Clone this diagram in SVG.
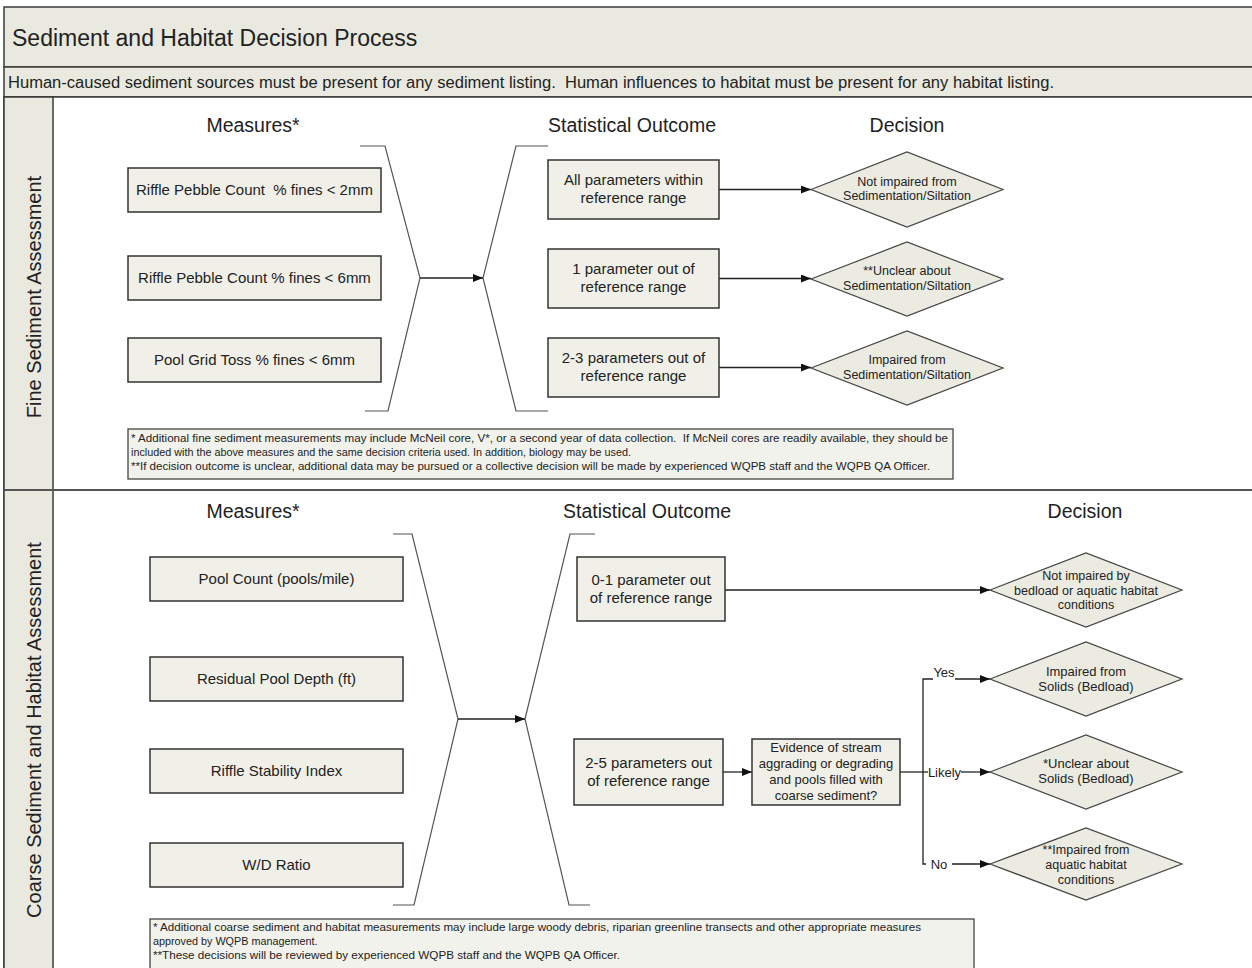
<svg xmlns="http://www.w3.org/2000/svg" width="1252" height="968" viewBox="0 0 1252 968">
<style>
text{font-family:"Liberation Sans",Arial,sans-serif;fill:#222}
.band{fill:#e9e9df;stroke:#3a3a3a;stroke-width:1.5}
.box{fill:#f0f0e8;stroke:#333;stroke-width:1.5}
.dia{fill:#ebebe1;stroke:#444;stroke-width:1.2}
.note{fill:#f2f2ec;stroke:#444;stroke-width:1.3}
.conn{stroke:#222;stroke-width:1.3;fill:none}
.br{stroke:#555;stroke-width:1.2;fill:none}
.h{font-size:19.5px;text-anchor:middle}
.t15{font-size:15px;text-anchor:middle}
.t13{font-size:13px;text-anchor:middle}
.t12{font-size:12.5px;text-anchor:middle}
.fn{font-size:10.8px}
.lab{font-size:20px;text-anchor:middle}
</style>
<defs>
<marker id="ah" markerUnits="userSpaceOnUse" markerWidth="10" markerHeight="8" refX="10" refY="4" orient="auto">
<path d="M0,0 L10,4 L0,8 z" fill="#111"/>
</marker>
</defs>
<rect x="0" y="0" width="1252" height="968" fill="#ffffff"/>
<g id="frame">
<rect class="band" x="4" y="7" width="1260" height="60"/>
<text x="12" y="46" style="font-size:23px">Sediment and Habitat Decision Process</text>
<rect class="band" x="4" y="67" width="1260" height="30"/>
<text x="8" y="88" xml:space="preserve" style="font-size:16px" textLength="1046" lengthAdjust="spacingAndGlyphs">Human-caused sediment sources must be present for any sediment listing.  Human influences to habitat must be present for any habitat listing.</text>
<rect x="4" y="97" width="1260" height="880" fill="#ffffff" stroke="#3a3a3a" stroke-width="1.5"/>
<rect class="band" x="4" y="97" width="49" height="880"/>
<line x1="4" y1="490" x2="1252" y2="490" stroke="#555" stroke-width="2"/>
<text class="lab" transform="translate(41,297) rotate(-90)">Fine Sediment Assessment</text>
<text class="lab" transform="translate(41,730) rotate(-90)">Coarse Sediment and Habitat Assessment</text>
</g>
<g id="headings">
<text class="h" x="253" y="132">Measures*</text>
<text class="h" x="632" y="132">Statistical Outcome</text>
<text class="h" x="907" y="132">Decision</text>
<text class="h" x="253" y="518">Measures*</text>
<text class="h" x="647" y="518">Statistical Outcome</text>
<text class="h" x="1085" y="518">Decision</text>
</g>
<g id="connectors">
<polyline class="br" points="360,146 385,146 420,278 388,411 365,411"/>
<polyline class="br" points="548,146 516,146 483,278 516,411 548,411"/>
<line class="conn" x1="420" y1="278" x2="483" y2="278" marker-end="url(#ah)"/>
<line class="conn" x1="719" y1="189.5" x2="811" y2="189.5" marker-end="url(#ah)"/>
<line class="conn" x1="719" y1="278.5" x2="811" y2="278.5" marker-end="url(#ah)"/>
<line class="conn" x1="719" y1="367.5" x2="811" y2="367.5" marker-end="url(#ah)"/>
<polyline class="br" points="393,534 412,534 458,719 414,905 393,905"/>
<polyline class="br" points="595,534 570,534 525,719 569,905 590,905"/>
<line class="conn" x1="458" y1="719" x2="525" y2="719" marker-end="url(#ah)"/>
<line class="conn" x1="725" y1="590" x2="990" y2="590" marker-end="url(#ah)"/>
<line class="conn" x1="723" y1="772" x2="752" y2="772" marker-end="url(#ah)"/>
<polyline class="conn" points="900,772 928,772"/>
<polyline class="conn" points="933,679 923,679 923,864 926,864"/>
<line class="conn" x1="955" y1="679" x2="990" y2="679" marker-end="url(#ah)"/>
<line class="conn" x1="961" y1="772" x2="990" y2="772" marker-end="url(#ah)"/>
<line class="conn" x1="952" y1="864" x2="990" y2="864" marker-end="url(#ah)"/>
<text class="t13" x="944" y="677">Yes</text>
<text class="t13" x="944.5" y="776.5">Likely</text>
<text class="t13" x="939" y="868.5">No</text>
</g>
<g id="m1"><rect class="box" x="128" y="168" width="253" height="44"/><text class="t15" x="254.5" y="195" xml:space="preserve">Riffle Pebble Count  % fines &lt; 2mm</text></g>
<g id="m2"><rect class="box" x="128" y="256" width="253" height="44"/><text class="t15" x="254.5" y="283">Riffle Pebble Count % fines &lt; 6mm</text></g>
<g id="m3"><rect class="box" x="128" y="338" width="253" height="44"/><text class="t15" x="254.5" y="365">Pool Grid Toss % fines &lt; 6mm</text></g>
<g id="o1"><rect class="box" x="548" y="160" width="171" height="59"/><text class="t15" x="633.5" y="185">All parameters within</text><text class="t15" x="633.5" y="203">reference range</text></g>
<g id="o2"><rect class="box" x="548" y="249" width="171" height="59"/><text class="t15" x="633.5" y="274">1 parameter out of</text><text class="t15" x="633.5" y="292">reference range</text></g>
<g id="o3"><rect class="box" x="548" y="338" width="171" height="59"/><text class="t15" x="633.5" y="363">2-3 parameters out of</text><text class="t15" x="633.5" y="381">reference range</text></g>
<g id="d1"><polygon class="dia" points="811,189.5 907,152 1003,189.5 907,227"/><text class="t12" x="907" y="185.5">Not impaired from</text><text class="t12" x="907" y="200">Sedimentation/Siltation</text></g>
<g id="d2"><polygon class="dia" points="811,279 907,242 1003,279 907,316"/><text class="t12" x="907" y="275">**Unclear about</text><text class="t12" x="907" y="289.5">Sedimentation/Siltation</text></g>
<g id="d3"><polygon class="dia" points="811,368 907,331 1003,368 907,405"/><text class="t12" x="907" y="364">Impaired from</text><text class="t12" x="907" y="378.5">Sedimentation/Siltation</text></g>
<g id="fn1"><rect class="note" x="128" y="429" width="825" height="50"/>
<text class="fn" x="131" y="441.5" xml:space="preserve" textLength="817" lengthAdjust="spacingAndGlyphs">* Additional fine sediment measurements may include McNeil core, V*, or a second year of data collection.  If McNeil cores are readily available, they should be</text>
<text class="fn" x="131" y="455.5">included with the above measures and the same decision criteria used. In addition, biology may be used.</text>
<text class="fn" x="131" y="469.5" textLength="799" lengthAdjust="spacingAndGlyphs">**If decision outcome is unclear, additional data may be pursued or a collective decision will be made by experienced WQPB staff and the WQPB QA Officer.</text>
</g>
<g id="cm1"><rect class="box" x="150" y="557" width="253" height="44"/><text class="t15" x="276.5" y="584">Pool Count (pools/mile)</text></g>
<g id="cm2"><rect class="box" x="150" y="657" width="253" height="44"/><text class="t15" x="276.5" y="684">Residual Pool Depth (ft)</text></g>
<g id="cm3"><rect class="box" x="150" y="749" width="253" height="44"/><text class="t15" x="276.5" y="776">Riffle Stability Index</text></g>
<g id="cm4"><rect class="box" x="150" y="843" width="253" height="44"/><text class="t15" x="276.5" y="870">W/D Ratio</text></g>
<g id="co1"><rect class="box" x="577" y="557" width="148" height="64"/><text class="t15" x="651" y="585">0-1 parameter out</text><text class="t15" x="651" y="603">of reference range</text></g>
<g id="co2"><rect class="box" x="574" y="739" width="149" height="66"/><text class="t15" x="648.5" y="768">2-5 parameters out</text><text class="t15" x="648.5" y="786">of reference range</text></g>
<g id="ev"><rect class="box" x="752" y="739" width="148" height="66"/><text class="t13" x="826" y="751.5">Evidence of stream</text><text class="t13" x="826" y="767.5">aggrading or degrading</text><text class="t13" x="826" y="783.5">and pools filled with</text><text class="t13" x="826" y="799.5">coarse sediment?</text></g>
<g id="cd1"><polygon class="dia" points="990,590 1086,553 1182,590 1086,627"/><text class="t12" x="1086" y="579.5">Not impaired by</text><text class="t12" x="1086" y="594.5">bedload or aquatic habitat</text><text class="t12" x="1086" y="608.5">conditions</text></g>
<g id="cd2"><polygon class="dia" points="990,679 1086,642 1182,679 1086,716"/><text class="t13" x="1086" y="675.5">Impaired from</text><text class="t13" x="1086" y="690.5">Solids (Bedload)</text></g>
<g id="cd3"><polygon class="dia" points="990,772 1086,735 1182,772 1086,809"/><text class="t13" x="1086" y="768">*Unclear about</text><text class="t13" x="1086" y="783">Solids (Bedload)</text></g>
<g id="cd4"><polygon class="dia" points="990,864 1086,828 1182,864 1086,900"/><text class="t12" x="1086" y="854">**Impaired from</text><text class="t12" x="1086" y="869">aquatic habitat</text><text class="t12" x="1086" y="884">conditions</text></g>
<g id="fn2"><rect class="note" x="150" y="919" width="824" height="52"/>
<text class="fn" x="153" y="931" textLength="768" lengthAdjust="spacingAndGlyphs">* Additional coarse sediment and habitat measurements may include large woody debris, riparian greenline transects and other appropriate measures</text>
<text class="fn" x="153" y="945">approved by WQPB management.</text>
<text class="fn" x="153" y="959" textLength="467" lengthAdjust="spacingAndGlyphs">**These decisions will be reviewed by experienced WQPB staff and the WQPB QA Officer.</text>
</g>
</svg>
